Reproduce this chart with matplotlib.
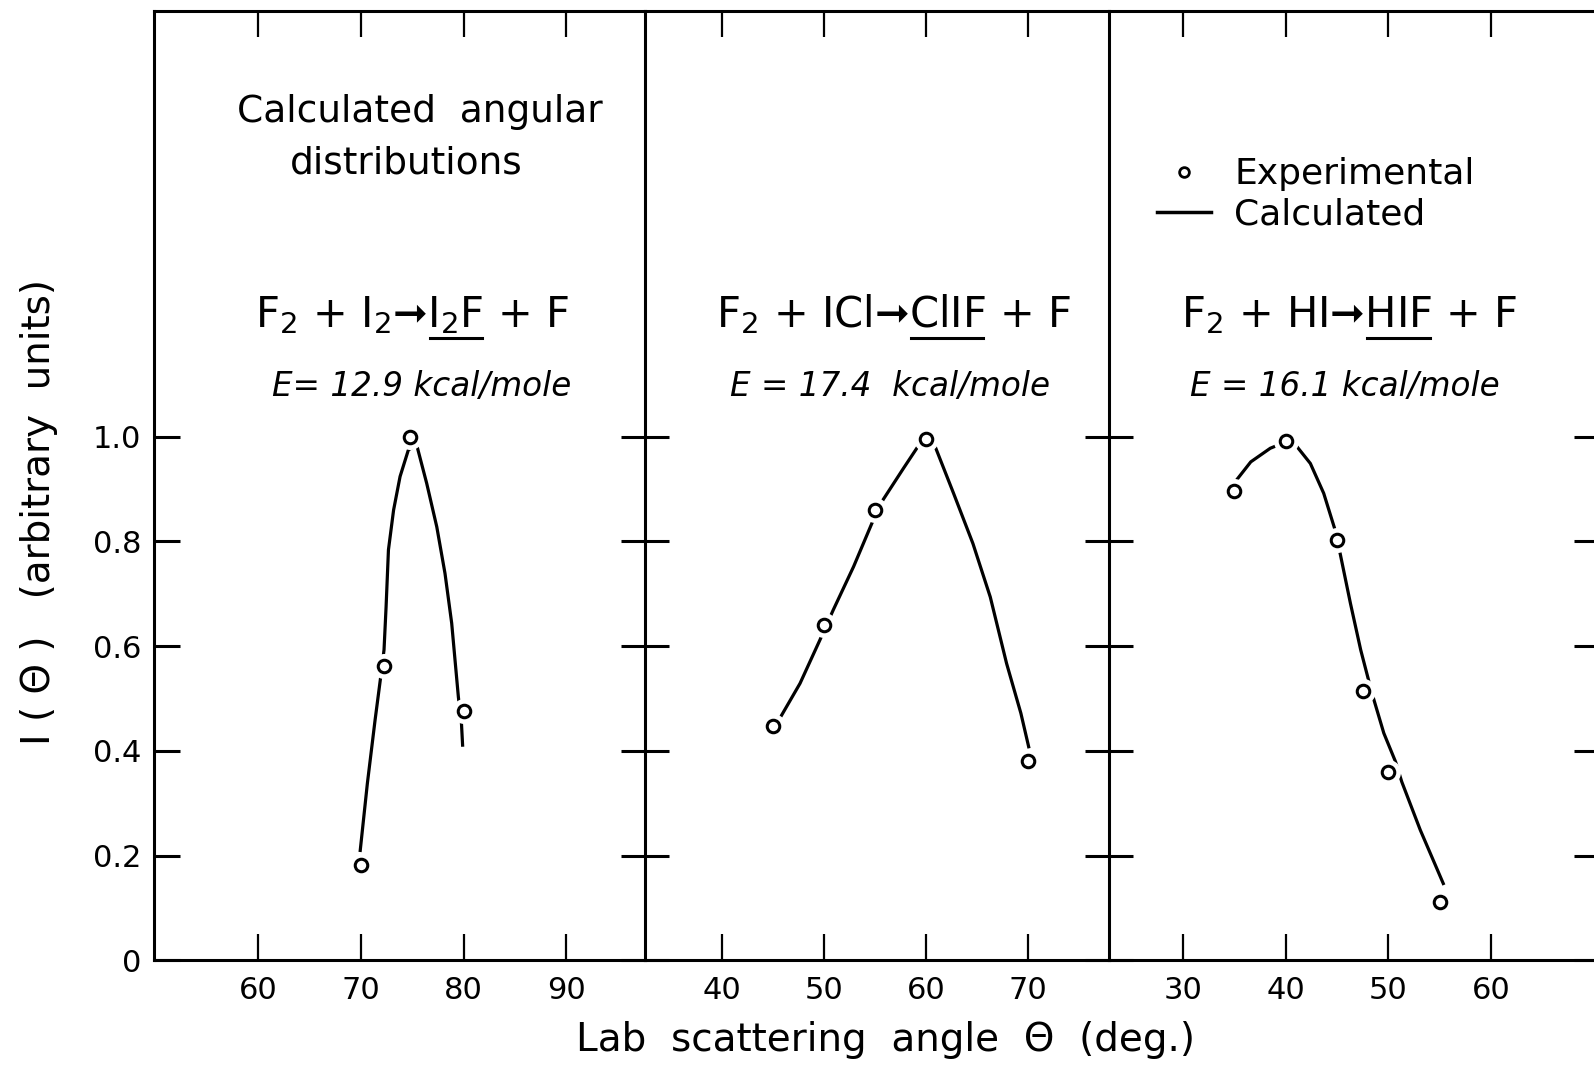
import matplotlib
matplotlib.use("Agg")
import matplotlib.pyplot as plt
from matplotlib.lines import Line2D

# --- data ---
# panel 1: F2 + I2
exp_x1 = [70, 72.3, 74.8, 80]
exp_y1 = [0.182, 0.563, 0.999, 0.477]
calc_x1 = [69.94, 70.65, 71.4, 71.95, 72.27, 72.47, 72.7, 73.2, 73.83, 74.64,
           75.45, 76.42, 77.4, 78.2, 78.85, 79.5, 79.8, 79.92]
calc_y1 = [0.207, 0.338, 0.459, 0.542, 0.593, 0.675, 0.784, 0.86, 0.924, 0.975,
           0.984, 0.911, 0.828, 0.739, 0.644, 0.503, 0.453, 0.408]

# panel 2: F2 + ICl
exp_x2 = [45, 50, 55, 60, 70]
exp_y2 = [0.448, 0.640, 0.860, 0.995, 0.381]
calc_x2 = [45.6, 47.65, 49.6, 50.9, 52.9, 54.7, 55.8, 57.8, 59.4, 60.9,
           62.7, 64.6, 66.3, 67.9, 69.3, 70.1]
calc_y2 = [0.460, 0.529, 0.612, 0.669, 0.752, 0.835, 0.880, 0.940, 0.987, 0.981,
           0.892, 0.796, 0.694, 0.567, 0.472, 0.405]

# panel 3: F2 + HI
exp_x3 = [35, 40, 45, 47.5, 50, 55]
exp_y3 = [0.896, 0.992, 0.803, 0.514, 0.359, 0.112]
calc_x3 = [35.2, 36.6, 38.5, 40.0, 41.1, 42.4, 43.7, 44.76, 45.3, 46.3, 47.3,
           48.4, 49.55, 50.7, 51.3, 53.1, 55.4]
calc_y3 = [0.917, 0.952, 0.978, 0.990, 0.981, 0.949, 0.892, 0.825, 0.777, 0.682, 0.593,
           0.510, 0.434, 0.379, 0.341, 0.249, 0.144]

xticks = [[60, 70, 80, 90], [40, 50, 60, 70], [30, 40, 50, 60]]
xlims = [(49.9, 97.65), (32.45, 77.94), (22.8, 70.4)]
yticks = [0, 0.2, 0.4, 0.6, 0.8, 1.0]
yticklabels = ["0", "0.2", "0.4", "0.6", "0.8", "1.0"]

reactions = [("F$_2$ + I$_2$➞", "I$_2$F", " + F"),
             ("F$_2$ + ICl➞", "ClIF", " + F"),
             ("F$_2$ + HI➞", "HIF", " + F")]
energies = ["E= 12.9 kcal/mole", "E = 17.4  kcal/mole", "E = 16.1 kcal/mole"]

W, H = 1594, 1066
plt.rcParams["font.family"] = ["DejaVu Sans"]
fig = plt.figure(figsize=(W / 100, H / 100), dpi=100)

def fx(x):
    return x / W

def fy(y):
    return 1 - y / H

# panel frames in pixels (left, right)
bottom_px, top_px = 960.4, 11
frames = [(154, 645), (645, 1109), (1109, 1598)]
axes = []
for (l, r) in frames:
    ax = fig.add_axes([fx(l), fy(bottom_px), (r - l) / W, (bottom_px - top_px) / H])
    axes.append(ax)

data = [(exp_x1, exp_y1, calc_x1, calc_y1),
        (exp_x2, exp_y2, calc_x2, calc_y2),
        (exp_x3, exp_y3, calc_x3, calc_y3)]

for i, ax in enumerate(axes):
    ex, ey, cx, cy = data[i]
    ax.plot(cx, cy, color="black", lw=2.3, solid_capstyle="butt",
            solid_joinstyle="round", zorder=2)
    # white halo so the curve breaks round each point, like the drafted original
    ax.plot(ex, ey, ls="none", marker="o", ms=17, mfc="white", mec="white", zorder=3)
    ax.plot(ex, ey, ls="none", marker="o", ms=9, mfc="white", mec="black", mew=2.2, zorder=4)

    ax.set_xlim(*xlims[i])
    ax.set_ylim(0, 1.813)
    ax.set_xticks(xticks[i])
    ax.set_yticks(yticks)
    for s in ax.spines.values():
        s.set_linewidth(2.2)
    ax.tick_params(axis="x", direction="in", length=19, width=1.6, top=True,
                   bottom=True, labelsize=22, pad=11)
    if i == 0:
        ax.set_yticklabels(yticklabels)
        ax.tick_params(axis="y", direction="in", length=19, width=2.2,
                       left=True, right=False, labelsize=22, pad=9)
    else:
        ax.tick_params(axis="y", direction="inout", length=35, width=2.2,
                       left=True, right=(i == 2), labelleft=False)
    if i < 2:
        ax.spines["right"].set_visible(False)

# panel texts
fig.text(fx(420), fy(122), "Calculated  angular", ha="center", va="baseline", fontsize=27)
fig.text(fx(406), fy(173), "distributions", ha="center", va="baseline", fontsize=27)

react_cx = [412, 893, 1349]
energy_cx = [422, 890, 1345]
fig.canvas.draw()
rend = fig.canvas.get_renderer()
for i in range(3):
    pre, prod, post = reactions[i]
    t = fig.text(fx(react_cx[i]), fy(327), pre + prod + post, ha="center",
                 va="baseline", fontsize=30)
    bb = t.get_window_extent(rend)
    t1 = fig.text(0, 0.5, pre, va="baseline", fontsize=30)
    t2 = fig.text(0, 0.5, pre + prod, va="baseline", fontsize=30)
    t3 = fig.text(0, 0.5, prod, va="baseline", fontsize=30)
    w1 = t1.get_window_extent(rend).width
    w2 = t2.get_window_extent(rend).width
    drop = 0.5 * H - t3.get_window_extent(rend).y0
    for tt in (t1, t2, t3):
        tt.remove()
    uy = 327 + drop + 2
    fig.add_artist(Line2D([fx(bb.x0 + w1 + 2), fx(bb.x0 + w2 - 2)], [fy(uy), fy(uy)],
                          color="black", lw=2.2))
    fig.text(fx(energy_cx[i]), fy(396), energies[i], ha="center", va="baseline",
             fontsize=23.5, style="italic")

# legend in the right panel
handles = [Line2D([], [], ls="none", marker="o", ms=7, mfc="white", mec="black", mew=2),
           Line2D([], [], color="black", lw=2.5)]
axes[2].legend(handles, ["Experimental", "Calculated"], loc="upper left",
               bbox_to_anchor=(0.098, 0.846), frameon=False, fontsize=26,
               handlelength=1.5, handletextpad=0.64, labelspacing=0.17,
               borderpad=0, borderaxespad=0)

# axis labels
fig.text(fx(39), fy(512), "I ( Θ )   (arbitrary  units)", rotation=90, ha="center",
         va="center", fontsize=28)
fig.text(fx(886), fy(1040), "Lab  scattering  angle  Θ  (deg.)", ha="center",
         va="center", fontsize=28)

fig.savefig("out.png", dpi=100)
